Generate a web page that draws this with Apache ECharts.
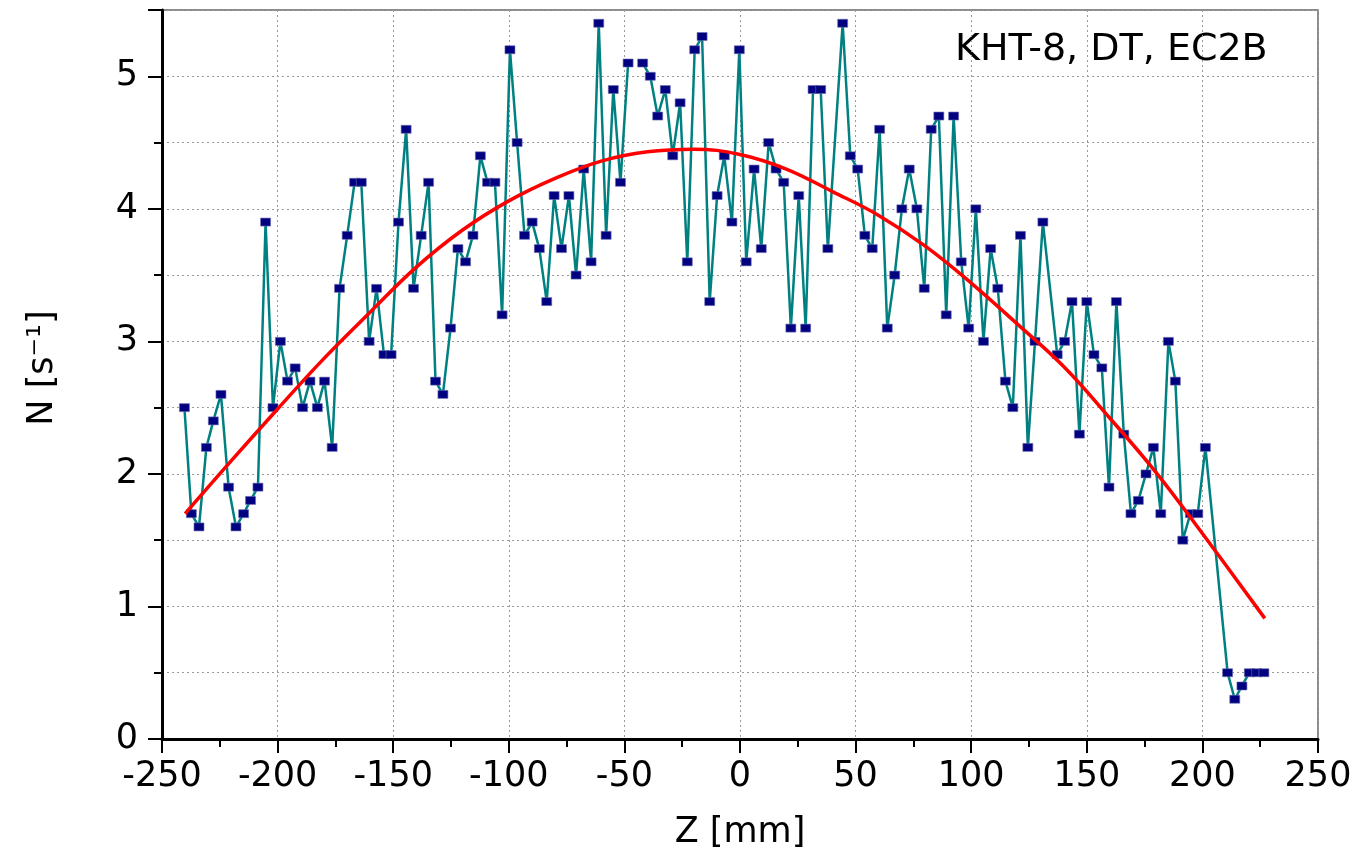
<!DOCTYPE html>
<html><head><meta charset="utf-8">
<script src="https://cdn.jsdelivr.net/npm/echarts@6/dist/echarts.min.js"></script>
<style>html,body{margin:0;padding:0;background:#fff}#c{width:1356px;height:855px}</style>
</head><body><div id="c"></div>
<script>
// Measured points: Z position [mm] and count rate N [1/s]
const zPos = [-240.3,-237.3,-234.0,-230.8,-227.8,-224.5,-221.2,-218.0,-214.7,-211.7,-208.5,-205.2,-202.0,-198.8,-195.7,-192.4,-189.2,-186.0,-182.8,-179.7,-176.4,-173.2,-169.9,-166.7,-163.8,-160.4,-157.2,-154.0,-150.9,-147.7,-144.4,-141.2,-137.9,-134.7,-131.7,-128.5,-125.2,-122.0,-118.7,-115.5,-112.3,-109.2,-106.0,-102.9,-99.5,-96.4,-93.2,-89.9,-86.8,-83.6,-80.4,-77.2,-74.0,-70.9,-67.6,-64.4,-61.1,-57.9,-54.8,-51.7,-48.4,-45.3,-42.1,-38.8,-35.6,-32.3,-29.1,-25.9,-22.8,-19.6,-16.4,-13.1,-9.9,-6.8,-3.5,-0.3,2.7,6.1,9.2,12.4,15.6,18.9,22.0,25.4,28.4,31.6,34.9,38.0,44.4,47.7,50.9,54.0,57.2,60.4,63.7,66.9,70.0,73.2,76.5,79.7,82.7,86.0,89.2,92.4,95.7,98.9,102.0,105.3,108.4,111.5,114.8,118.0,121.3,124.5,127.6,131.0,137.2,140.4,143.6,146.8,150.0,153.1,156.5,159.6,162.8,166.0,169.1,172.3,175.6,178.8,182.0,185.3,188.3,191.5,194.8,198.0,201.3,210.9,214.0,217.1,220.3,223.5,226.6];
const countRate = [2.5,1.7,1.6,2.2,2.4,2.6,1.9,1.6,1.7,1.8,1.9,3.9,2.5,3.0,2.7,2.8,2.5,2.7,2.5,2.7,2.2,3.4,3.8,4.2,4.2,3.0,3.4,2.9,2.9,3.9,4.6,3.4,3.8,4.2,2.7,2.6,3.1,3.7,3.6,3.8,4.4,4.2,4.2,3.2,5.2,4.5,3.8,3.9,3.7,3.3,4.1,3.7,4.1,3.5,4.3,3.6,5.4,3.8,4.9,4.2,5.1,null,5.1,5.0,4.7,4.9,4.4,4.8,3.6,5.2,5.3,3.3,4.1,4.4,3.9,5.2,3.6,4.3,3.7,4.5,4.3,4.2,3.1,4.1,3.1,4.9,4.9,3.7,5.4,4.4,4.3,3.8,3.7,4.6,3.1,3.5,4.0,4.3,4.0,3.4,4.6,4.7,3.2,4.7,3.6,3.1,4.0,3.0,3.7,3.4,2.7,2.5,3.8,2.2,3.0,3.9,2.9,3.0,3.3,2.3,3.3,2.9,2.8,1.9,3.3,2.3,1.7,1.8,2.0,2.2,1.7,3.0,2.7,1.5,1.7,1.7,2.2,0.5,0.3,0.4,0.5,0.5,0.5];
// Fit curve
const fitZ = [-240,-220,-200,-180,-160,-140,-120,-100,-80,-60,-40,-20,0,20,40,60,80,100,120,140,160,180,200,227];
const fitN = [1.70,2.10,2.49,2.87,3.22,3.56,3.84,4.06,4.23,4.36,4.43,4.45,4.41,4.30,4.13,3.95,3.72,3.44,3.13,2.81,2.42,2.01,1.55,0.91];
const labelText = 'KHT-8, DT, EC2B';
const xTitle = 'Z [mm]';
const yTitle = 'N [s\u207B\u00B9]';

const FONT = 'DejaVu Sans';
const chart = echarts.init(document.getElementById('c'), null, {renderer:'canvas'});
const dotted = {show:true, lineStyle:{color:'#9a9a9a', width:1, type:[2,3]}};
chart.setOption({
  animation:false,
  backgroundColor:'#fff',
  grid:{left:162, top:10, width:1156, height:729, show:true, borderColor:'#666', borderWidth:1.5, backgroundColor:'transparent'},
  xAxis:{type:'value', min:-250, max:250, interval:50,
    axisLine:{show:true, onZero:false, lineStyle:{color:'#000', width:3}},
    axisTick:{show:true, length:14, lineStyle:{color:'#000', width:2}},
    minorTick:{show:true, splitNumber:2, length:8, lineStyle:{color:'#000', width:2}},
    splitLine:dotted,
    axisLabel:{color:'#000', fontFamily:FONT, fontSize:35, margin:20}
  },
  yAxis:{type:'value', min:0, max:5.5, interval:1,
    axisLine:{show:true, onZero:false, lineStyle:{color:'#000', width:3}},
    axisTick:{show:true, length:14, lineStyle:{color:'#000', width:2}},
    minorTick:{show:true, splitNumber:2, length:8, lineStyle:{color:'#000', width:2}},
    splitLine:dotted,
    minorSplitLine:dotted,
    axisLabel:{color:'#000', fontFamily:FONT, fontSize:35, margin:24,
      formatter:v => (Math.abs(v - Math.round(v)) < 1e-6 ? String(Math.round(v)) : '')}
  },
  graphic:[
    {type:'text', x:740, y:833, style:{text:xTitle, fill:'#000', font:'35px "DejaVu Sans"', align:'center', verticalAlign:'middle', textAlign:'center', textVerticalAlign:'middle'}},
    {type:'text', x:43, y:368, rotation:Math.PI/2, style:{text:yTitle, fill:'#000', font:'35px "DejaVu Sans"', align:'center', verticalAlign:'middle', textAlign:'center', textVerticalAlign:'middle'}},
    {type:'text', x:955, y:50, style:{text:labelText, fill:'#000', font:'38px "DejaVu Sans"', align:'left', verticalAlign:'middle', textAlign:'left', textVerticalAlign:'middle'}}
  ],
  series:[
    {type:'line', data:zPos.map((z,i)=>[z, countRate[i]]), connectNulls:false,
     symbol:'rect', symbolSize:[10,8], showAllSymbol:true,
     itemStyle:{color:'#000080', borderColor:'#6b6bb0', borderWidth:0.6},
     lineStyle:{color:'#008080', width:2.5}, z:2},
    {type:'line', data:fitZ.map((z,i)=>[z, fitN[i]]), smooth:0.4, showSymbol:false, symbol:'none',
     lineStyle:{color:'#ff0000', width:3.5}, z:3}
  ]
});
</script></body></html>
